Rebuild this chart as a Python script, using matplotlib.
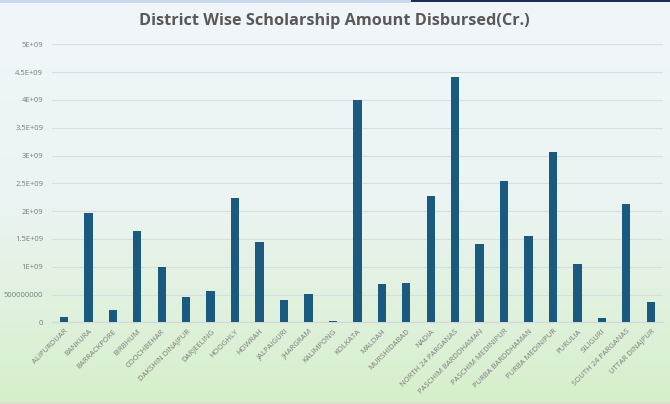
import numpy as np
import matplotlib
matplotlib.use("Agg")
import matplotlib.pyplot as plt
from matplotlib.colors import LinearSegmentedColormap
from matplotlib.patches import Rectangle

districts = ["ALIPURDUAR", "BANKURA", "BARRACKPORE", "BIRBHUM", "COOCHBEHAR",
             "DAKSHIN DINAJPUR", "DARJEELING", "HOOGHLY", "HOWRAH", "JALPAIGURI",
             "JHARGRAM", "KALIMPONG", "KOLKATA", "MALDAH", "MURSHIDABAD", "NADIA",
             "NORTH 24 PARGANAS", "PASCHIM BARDDHAMAN", "PASCHIM MEDINIPUR",
             "PURBA BARDDHAMAN", "PURBA MEDINIPUR", "PURULIA", "SILIGURI",
             "SOUTH 24 PARGANAS", "UTTAR DINAJPUR"]
amounts = [0.10e9, 1.96e9, 0.215e9, 1.65e9, 1.00e9,
           0.46e9, 0.57e9, 2.24e9, 1.45e9, 0.41e9,
           0.51e9, 0.03e9, 4.00e9, 0.69e9, 0.71e9, 2.27e9,
           4.42e9, 1.41e9, 2.54e9,
           1.56e9, 3.06e9, 1.05e9, 0.08e9,
           2.13e9, 0.36e9]
y_ticks = [0, 0.5e9, 1e9, 1.5e9, 2e9, 2.5e9, 3e9, 3.5e9, 4e9, 4.5e9, 5e9]
y_tick_labels = ["0", "500000000", "1E+09", "1.5E+09", "2E+09", "2.5E+09",
                 "3E+09", "3.5E+09", "4E+09", "4.5E+09", "5E+09"]
title = "District Wise Scholarship Amount Disbursed(Cr.)"

W, H = 670, 404
fig = plt.figure(figsize=(W / 100, H / 100), dpi=100)

# gradient background
bg = fig.add_axes([0, 0, 1, 1], zorder=-5)
cmap = LinearSegmentedColormap.from_list("bg", ["#f1f6fb", "#ebf4f2", "#d6efca"])
grad = np.linspace(0, 1, 256).reshape(-1, 1)
bg.imshow(grad, aspect="auto", cmap=cmap, extent=[0, 1, 0, 1], origin="upper")
bg.set_xlim(0, 1); bg.set_ylim(0, 1)
bg.axis("off")

# top strip
fig.patches.append(Rectangle((0, 1 - 3 / H), 411 / W, 3 / H, transform=fig.transFigure,
                             facecolor="#c7daee", edgecolor="none", zorder=5))
fig.patches.append(Rectangle((411 / W, 1 - 2 / H), 1 - 411 / W, 2 / H, transform=fig.transFigure,
                             facecolor="#1d2b5e", edgecolor="none", zorder=5))
fig.patches.append(Rectangle((0, 0), 1, 2 / H, transform=fig.transFigure,
                             facecolor="#d5e2d2", edgecolor="none", zorder=5))

left, right = 51.7 / W, 663 / W
bottom, top = 1 - 322.3 / H, 1 - 44.3 / H
ax = fig.add_axes([left, bottom, right - left, top - bottom])
ax.patch.set_alpha(0)

x = np.arange(len(districts))
ax.bar(x, amounts, width=0.34, color="#1a5a7e", zorder=3)
ax.set_xlim(-0.5, len(districts) - 0.5)
ax.set_ylim(0, 5e9)
ax.set_yticks(y_ticks)
ax.set_yticklabels(y_tick_labels)
ax.set_xticks(x)
ax.set_xticklabels(districts, rotation=45, ha="right", va="top", rotation_mode="anchor")

for s in ["top", "right", "left"]:
    ax.spines[s].set_visible(False)
ax.spines["bottom"].set_color("#d0d6d8")
ax.spines["bottom"].set_linewidth(0.8)
ax.grid(axis="y", color="#d9dde0", linewidth=0.8, zorder=0)
ax.tick_params(axis="both", length=0, colors="#7a7a7a", labelsize=5.5)
ax.tick_params(axis="y", pad=6)
ax.tick_params(axis="x", pad=4)
for lbl in ax.get_xticklabels() + ax.get_yticklabels():
    lbl.set_family(["Open Sans", "DejaVu Sans"])

fig.text(334.5 / W, 1 - 21 / H, title, ha="center", va="center",
         fontsize=11.7, fontweight="bold", color="#595959",
         family=["Open Sans", "DejaVu Sans"])

fig.savefig("out.png", dpi=100)
